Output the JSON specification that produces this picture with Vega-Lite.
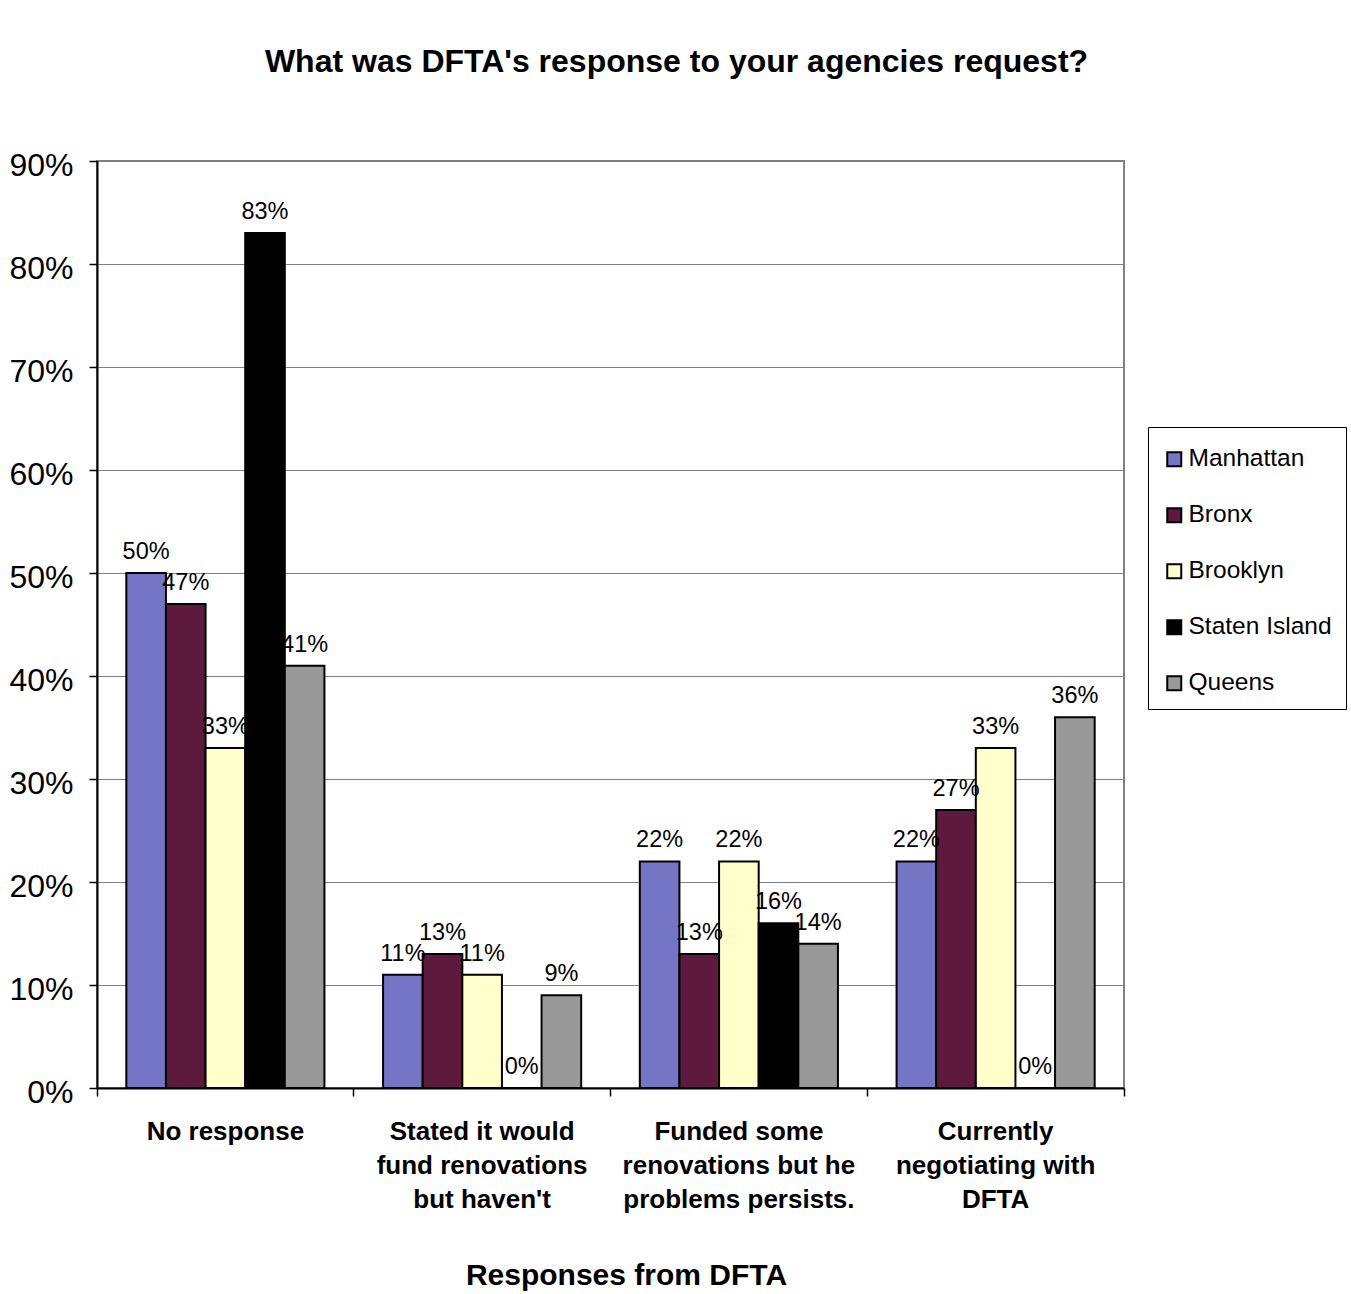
{
  "$schema": "https://vega.github.io/schema/vega-lite/v6.json",
  "width": 1027,
  "height": 927,
  "autosize": "none",
  "padding": {"left": 97, "top": 161, "right": 227, "bottom": 206},
  "background": "white",
  "title": {
    "text": "What was DFTA's response to your agencies request?",
    "font": "Liberation Sans",
    "fontSize": 32,
    "fontWeight": "bold",
    "color": "black",
    "anchor": "middle",
    "dx": 66,
    "offset": 70
  },
  "data": {
    "values": [
      {"response": "No response", "borough": "Manhattan", "value": 0.50},
      {"response": "No response", "borough": "Bronx", "value": 0.47},
      {"response": "No response", "borough": "Brooklyn", "value": 0.33},
      {"response": "No response", "borough": "Staten Island", "value": 0.83},
      {"response": "No response", "borough": "Queens", "value": 0.41},
      {"response": "Stated it would fund renovations but haven't", "borough": "Manhattan", "value": 0.11},
      {"response": "Stated it would fund renovations but haven't", "borough": "Bronx", "value": 0.13},
      {"response": "Stated it would fund renovations but haven't", "borough": "Brooklyn", "value": 0.11},
      {"response": "Stated it would fund renovations but haven't", "borough": "Staten Island", "value": 0.0},
      {"response": "Stated it would fund renovations but haven't", "borough": "Queens", "value": 0.09},
      {"response": "Funded some renovations but he problems persists.", "borough": "Manhattan", "value": 0.22},
      {"response": "Funded some renovations but he problems persists.", "borough": "Bronx", "value": 0.13},
      {"response": "Funded some renovations but he problems persists.", "borough": "Brooklyn", "value": 0.22},
      {"response": "Funded some renovations but he problems persists.", "borough": "Staten Island", "value": 0.16},
      {"response": "Funded some renovations but he problems persists.", "borough": "Queens", "value": 0.14},
      {"response": "Currently negotiating with DFTA", "borough": "Manhattan", "value": 0.22},
      {"response": "Currently negotiating with DFTA", "borough": "Bronx", "value": 0.27},
      {"response": "Currently negotiating with DFTA", "borough": "Brooklyn", "value": 0.33},
      {"response": "Currently negotiating with DFTA", "borough": "Staten Island", "value": 0.0},
      {"response": "Currently negotiating with DFTA", "borough": "Queens", "value": 0.36}
    ]
  },
  "encoding": {
    "x": {
      "field": "response",
      "type": "nominal",
      "sort": null,
      "scale": {"paddingInner": 0, "paddingOuter": 0},
      "axis": {
        "title": "Responses from DFTA",
        "titleFont": "Liberation Sans",
        "titleFontSize": 30,
        "titleFontWeight": "bold",
        "titleColor": "black",
        "titleX": 529,
        "titleY": 196,
        "titleAnchor": null,
        "titleAlign": "center",
        "titleBaseline": "alphabetic",
        "labelAngle": 0,
        "labelFont": "Liberation Sans",
        "labelFontSize": 26,
        "labelFontWeight": "bold",
        "labelColor": "black",
        "labelLineHeight": 34,
        "labelBaseline": "top",
        "labelPadding": 22,
        "labelLimit": 300,
        "labelExpr": "datum.value == 'No response' ? ['No response'] : datum.value == \"Stated it would fund renovations but haven't\" ? ['Stated it would', 'fund renovations', \"but haven't\"] : datum.value == 'Funded some renovations but he problems persists.' ? ['Funded some', 'renovations but he', 'problems persists.'] : datum.value == 'Currently negotiating with DFTA' ? ['Currently', 'negotiating with', 'DFTA'] : ''",
        "bandPosition": 1,
        "tickExtra": true,
        "tickSize": 8,
        "tickColor": "black",
        "tickWidth": 1.5,
        "domainColor": "black",
        "domainWidth": 2,
        "grid": false
      }
    },
    "xOffset": {
      "field": "borough",
      "type": "nominal",
      "sort": ["Manhattan", "Bronx", "Brooklyn", "Staten Island", "Queens"],
      "scale": {"paddingInner": 0, "paddingOuter": 0.74}
    },
    "y": {
      "field": "value",
      "type": "quantitative",
      "scale": {"domain": [0, 0.9], "nice": false},
      "axis": {
        "title": null,
        "format": ".0%",
        "values": [0, 0.1, 0.2, 0.3, 0.4, 0.5, 0.6, 0.7, 0.8, 0.9],
        "labelFont": "Liberation Sans",
        "labelFontSize": 32,
        "labelColor": "black",
        "labelPadding": 16,
        "labelOffset": 4,
        "tickSize": 8,
        "tickColor": "black",
        "tickWidth": 1.5,
        "domainColor": "black",
        "domainWidth": 2,
        "grid": true,
        "gridColor": "#808080",
        "gridWidth": 1
      }
    }
  },
  "layer": [
    {
      "mark": {"type": "bar", "stroke": "black", "strokeWidth": 2},
      "encoding": {
        "color": {
          "field": "borough",
          "type": "nominal",
          "scale": {
            "domain": ["Manhattan", "Bronx", "Brooklyn", "Staten Island", "Queens"],
            "range": ["#7575c5", "#5e1a3c", "#ffffcc", "#000000", "#999999"]
          },
          "legend": {
            "title": " ",
            "titleFontSize": 6,
            "titlePadding": 0,
            "orient": "none",
            "legendX": 1051,
            "legendY": 266,
            "padding": 14,
            "strokeColor": "black",
            "fillColor": "white",
            "symbolType": "square",
            "symbolSize": 196,
            "symbolStrokeColor": "black",
            "symbolStrokeWidth": 2,
            "symbolOpacity": 1,
            "labelFont": "Liberation Sans",
            "labelFontSize": 24.5,
            "labelColor": "black",
            "labelOffset": 2,
            "rowPadding": 31,
            "labelLimit": 300
          }
        }
      }
    },
    {
      "mark": {
        "type": "text",
        "font": "Liberation Sans",
        "fontSize": 23.5,
        "color": "black",
        "baseline": "alphabetic",
        "dy": -14
      },
      "encoding": {
        "text": {"field": "value", "type": "quantitative", "format": ".0%"}
      }
    }
  ],
  "config": {
    "view": {"stroke": "#808080", "strokeWidth": 2},
    "font": "Liberation Sans"
  }
}
